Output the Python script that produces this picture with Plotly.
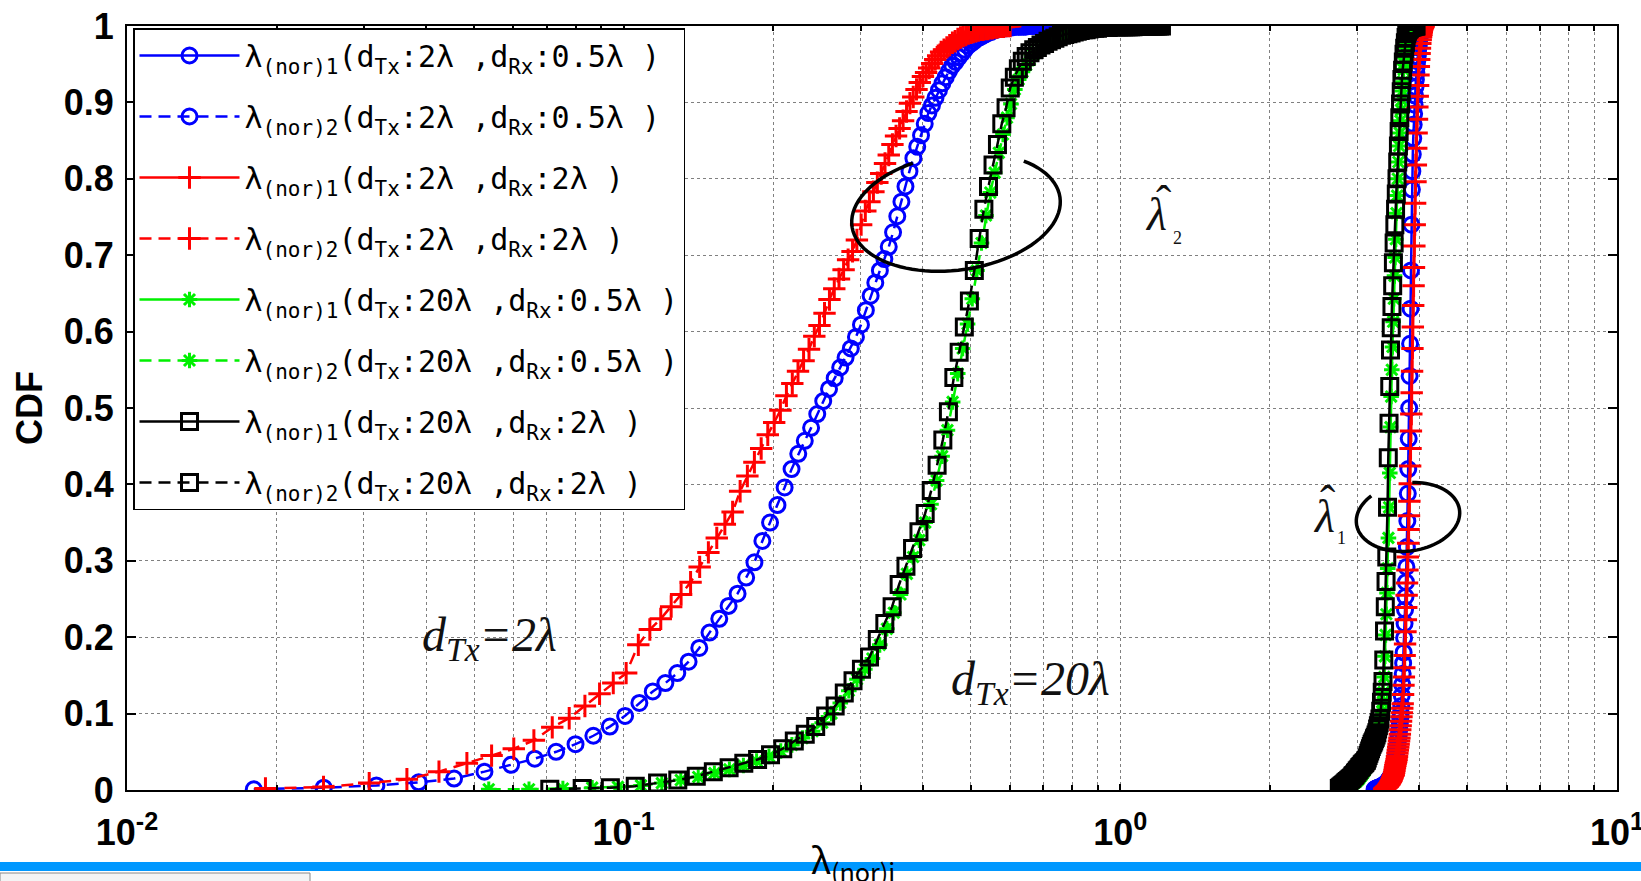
import numpy as np
import plotly.graph_objects as go

# ---- empirical CDFs, each sampled on an evenly spaced eigenvalue grid ----
# a: d_Tx=2λ,  d_Rx=0.5λ   b: d_Tx=2λ,  d_Rx=2λ
# c: d_Tx=20λ, d_Rx=0.5λ   d: d_Tx=20λ, d_Rx=2λ
lam1_range_a = (3.25, 4.05)
lam2_range_a = (0.018, 0.70)
lam1_range_b = (3.40, 4.08)
lam2_range_b = (0.019, 0.60)
lam1_range_c = (2.86, 3.95)
lam2_range_c = (0.0535, 1.14)
lam1_range_d = (2.76, 3.94)
lam2_range_d = (0.071, 1.21)

cdf1_a = [0.001, 0.001, 0.001, 0.002, 0.002, 0.002, 0.003, 0.003, 0.003, 0.003,
          0.004, 0.004, 0.004, 0.004, 0.005, 0.005, 0.006, 0.006, 0.007, 0.007,
          0.008, 0.008, 0.009, 0.009, 0.010, 0.011, 0.012, 0.013, 0.014, 0.015,
          0.016, 0.017, 0.018, 0.019, 0.021, 0.023, 0.026, 0.028, 0.031, 0.034,
          0.037, 0.041, 0.045, 0.050, 0.054, 0.059, 0.064, 0.068, 0.073, 0.080,
          0.087, 0.094, 0.101, 0.110, 0.124, 0.138, 0.152, 0.166, 0.180, 0.199,
          0.218, 0.236, 0.253, 0.272, 0.292, 0.318, 0.352, 0.388, 0.420, 0.460,
          0.500, 0.542, 0.584, 0.630, 0.680, 0.740, 0.786, 0.810, 0.832, 0.853,
          0.871, 0.885, 0.897, 0.909, 0.920, 0.930, 0.939, 0.947, 0.954, 0.960,
          0.965, 0.972, 0.977, 0.983, 0.988, 0.992, 0.995, 0.997, 0.999, 1.0]

cdf2_a = [0.001, 0.003, 0.006, 0.010, 0.015, 0.024, 0.033, 0.041, 0.050, 0.060,
          0.071, 0.083, 0.097, 0.114, 0.129, 0.140, 0.153, 0.168, 0.186, 0.206,
          0.224, 0.241, 0.257, 0.278, 0.298, 0.326, 0.350, 0.373, 0.396, 0.420,
          0.440, 0.457, 0.474, 0.492, 0.509, 0.525, 0.539, 0.553, 0.566, 0.578,
          0.593, 0.609, 0.628, 0.647, 0.664, 0.680, 0.695, 0.711, 0.730, 0.751,
          0.770, 0.790, 0.810, 0.827, 0.842, 0.857, 0.872, 0.886, 0.896, 0.906,
          0.916, 0.925, 0.933, 0.941, 0.948, 0.953, 0.959, 0.964, 0.969, 0.974,
          0.977, 0.980, 0.983, 0.985, 0.987, 0.989, 0.991, 0.992, 0.994, 0.995,
          0.996, 0.996, 0.997, 0.997, 0.998, 0.998, 0.999, 0.999, 0.999, 0.999,
          0.999, 0.999, 1.0, 1.0, 1.0, 1.0, 1.0, 1.0, 1.0, 1.0]

cdf1_b = [0.001, 0.002, 0.002, 0.003, 0.003, 0.004, 0.004, 0.005, 0.005, 0.006,
          0.007, 0.008, 0.008, 0.009, 0.010, 0.011, 0.012, 0.013, 0.015, 0.016,
          0.018, 0.019, 0.020, 0.023, 0.026, 0.029, 0.032, 0.035, 0.037, 0.040,
          0.044, 0.048, 0.052, 0.056, 0.060, 0.064, 0.068, 0.073, 0.079, 0.084,
          0.090, 0.096, 0.101, 0.107, 0.113, 0.125, 0.137, 0.148, 0.160, 0.176,
          0.191, 0.207, 0.223, 0.239, 0.255, 0.271, 0.288, 0.305, 0.323, 0.341,
          0.359, 0.378, 0.401, 0.424, 0.447, 0.470, 0.492, 0.520, 0.548, 0.578,
          0.606, 0.634, 0.660, 0.684, 0.712, 0.740, 0.768, 0.796, 0.818, 0.840,
          0.860, 0.878, 0.894, 0.908, 0.922, 0.936, 0.947, 0.956, 0.964, 0.971,
          0.977, 0.982, 0.986, 0.989, 0.992, 0.995, 0.997, 0.998, 0.999, 1.0]

cdf2_b = [0.002, 0.004, 0.009, 0.014, 0.024, 0.035, 0.045, 0.054, 0.065, 0.082,
          0.094, 0.110, 0.126, 0.140, 0.153, 0.190, 0.210, 0.224, 0.240, 0.256,
          0.272, 0.292, 0.311, 0.330, 0.348, 0.364, 0.391, 0.411, 0.429, 0.447,
          0.465, 0.481, 0.497, 0.516, 0.532, 0.548, 0.562, 0.577, 0.594, 0.608,
          0.624, 0.642, 0.656, 0.669, 0.681, 0.694, 0.705, 0.720, 0.740, 0.758,
          0.770, 0.783, 0.795, 0.807, 0.820, 0.831, 0.845, 0.856, 0.866, 0.876,
          0.888, 0.899, 0.907, 0.917, 0.926, 0.934, 0.939, 0.945, 0.951, 0.956,
          0.961, 0.966, 0.969, 0.972, 0.975, 0.978, 0.980, 0.983, 0.985, 0.987,
          0.988, 0.990, 0.991, 0.992, 0.993, 0.994, 0.995, 0.995, 0.996, 0.996,
          0.997, 0.997, 0.998, 0.998, 0.999, 0.999, 0.999, 1.0, 1.0, 1.0]

cdf1_c = [0.001, 0.002, 0.003, 0.004, 0.005, 0.006, 0.007, 0.008, 0.009, 0.010,
          0.010, 0.011, 0.012, 0.013, 0.014, 0.015, 0.017, 0.018, 0.019, 0.021,
          0.022, 0.024, 0.025, 0.027, 0.029, 0.031, 0.034, 0.036, 0.038, 0.041,
          0.043, 0.045, 0.047, 0.050, 0.052, 0.055, 0.058, 0.061, 0.064, 0.067,
          0.070, 0.075, 0.080, 0.085, 0.090, 0.096, 0.103, 0.115, 0.128, 0.148,
          0.175, 0.203, 0.230, 0.258, 0.290, 0.330, 0.370, 0.415, 0.475, 0.515,
          0.550, 0.580, 0.613, 0.643, 0.673, 0.697, 0.721, 0.755, 0.778, 0.800,
          0.822, 0.843, 0.860, 0.876, 0.890, 0.903, 0.915, 0.927, 0.943, 0.951,
          0.959, 0.966, 0.972, 0.977, 0.981, 0.985, 0.989, 0.991, 0.993, 0.995,
          0.996, 0.997, 0.998, 0.998, 0.999, 0.999, 0.999, 1.0, 1.0, 1.0]

cdf2_c = [0.001, 0.001, 0.002, 0.003, 0.004, 0.006, 0.009, 0.013, 0.017, 0.022,
          0.027, 0.032, 0.038, 0.044, 0.051, 0.059, 0.068, 0.077, 0.088, 0.100,
          0.114, 0.130, 0.145, 0.158, 0.172, 0.190, 0.211, 0.232, 0.256, 0.283,
          0.305, 0.327, 0.350, 0.374, 0.405, 0.437, 0.471, 0.508, 0.545, 0.578,
          0.610, 0.643, 0.680, 0.716, 0.752, 0.782, 0.808, 0.834, 0.858, 0.880,
          0.898, 0.917, 0.930, 0.940, 0.949, 0.956, 0.962, 0.966, 0.970, 0.973,
          0.976, 0.978, 0.981, 0.983, 0.985, 0.987, 0.988, 0.989, 0.990, 0.991,
          0.992, 0.993, 0.994, 0.995, 0.995, 0.996, 0.996, 0.997, 0.997, 0.997,
          0.998, 0.998, 0.998, 0.998, 0.999, 0.999, 0.999, 0.999, 1.0, 1.0,
          1.0, 1.0, 1.0, 1.0, 1.0, 1.0, 1.0, 1.0, 1.0, 1.0]

cdf1_d = [0.002, 0.003, 0.004, 0.005, 0.006, 0.007, 0.008, 0.009, 0.010, 0.011,
          0.012, 0.013, 0.014, 0.015, 0.016, 0.018, 0.019, 0.020, 0.022, 0.023,
          0.025, 0.026, 0.027, 0.029, 0.030, 0.031, 0.033, 0.034, 0.035, 0.036,
          0.038, 0.039, 0.042, 0.045, 0.048, 0.051, 0.054, 0.057, 0.060, 0.062,
          0.064, 0.067, 0.069, 0.072, 0.075, 0.080, 0.084, 0.088, 0.093, 0.103,
          0.115, 0.128, 0.142, 0.170, 0.208, 0.240, 0.273, 0.305, 0.370, 0.435,
          0.480, 0.528, 0.576, 0.605, 0.633, 0.660, 0.690, 0.716, 0.740, 0.760,
          0.780, 0.800, 0.822, 0.843, 0.862, 0.880, 0.898, 0.914, 0.930, 0.942,
          0.953, 0.963, 0.971, 0.978, 0.985, 0.990, 0.993, 0.995, 0.996, 0.997,
          0.998, 0.998, 0.999, 0.999, 0.999, 1.0, 1.0, 1.0, 1.0, 1.0]

cdf2_d = [0.001, 0.002, 0.003, 0.005, 0.009, 0.013, 0.018, 0.024, 0.029, 0.035,
          0.040, 0.046, 0.054, 0.064, 0.073, 0.083, 0.097, 0.110, 0.127, 0.143,
          0.158, 0.174, 0.197, 0.218, 0.240, 0.269, 0.293, 0.316, 0.338, 0.362,
          0.392, 0.425, 0.458, 0.495, 0.540, 0.573, 0.606, 0.640, 0.680, 0.722,
          0.760, 0.790, 0.818, 0.845, 0.872, 0.893, 0.919, 0.933, 0.944, 0.954,
          0.960, 0.965, 0.969, 0.972, 0.975, 0.977, 0.980, 0.982, 0.984, 0.986,
          0.988, 0.989, 0.990, 0.991, 0.992, 0.993, 0.994, 0.995, 0.995, 0.996,
          0.997, 0.997, 0.997, 0.998, 0.998, 0.998, 0.998, 0.999, 0.999, 0.999,
          0.999, 0.999, 0.999, 0.999, 0.999, 0.999, 0.999, 1.0, 1.0, 1.0,
          1.0, 1.0, 1.0, 1.0, 1.0, 1.0, 1.0, 1.0, 1.0, 1.0]

legend_labels = [
    "λ<sub>(nor)1</sub>(d<sub>Tx</sub>:2λ ,d<sub>Rx</sub>:0.5λ )",
    "λ<sub>(nor)2</sub>(d<sub>Tx</sub>:2λ ,d<sub>Rx</sub>:0.5λ )",
    "λ<sub>(nor)1</sub>(d<sub>Tx</sub>:2λ ,d<sub>Rx</sub>:2λ )",
    "λ<sub>(nor)2</sub>(d<sub>Tx</sub>:2λ ,d<sub>Rx</sub>:2λ )",
    "λ<sub>(nor)1</sub>(d<sub>Tx</sub>:20λ ,d<sub>Rx</sub>:0.5λ )",
    "λ<sub>(nor)2</sub>(d<sub>Tx</sub>:20λ ,d<sub>Rx</sub>:0.5λ )",
    "λ<sub>(nor)1</sub>(d<sub>Tx</sub>:20λ ,d<sub>Rx</sub>:2λ )",
    "λ<sub>(nor)2</sub>(d<sub>Tx</sub>:20λ ,d<sub>Rx</sub>:2λ )",
]

y_ticks = [0, 0.1, 0.2, 0.3, 0.4, 0.5, 0.6, 0.7, 0.8, 0.9, 1]
x_ticks = [0.01, 0.1, 1, 10]
x_tick_text = ["10<sup>-2</sup>", "10<sup>-1</sup>", "10<sup>0</sup>", "10<sup>1</sup>"]
x_minor_ticks = [m * 10.0 ** e for e in (-2, -1, 0) for m in range(2, 10)]

# (range, cdf, colour, marker, dash, marker size)
dashed = "12px,7px"
series = [
    (lam1_range_a, cdf1_a, "#0000ff", "circle-open", "solid", 15),
    (lam2_range_a, cdf2_a, "#0000ff", "circle-open", dashed, 15),
    (lam1_range_b, cdf1_b, "#ff0000", "cross-thin-open", "solid", 16),
    (lam2_range_b, cdf2_b, "#ff0000", "cross-thin-open", dashed, 16),
    (lam1_range_c, cdf1_c, "#00f000", "asterisk-open", "solid", 13),
    (lam2_range_c, cdf2_c, "#00f000", "asterisk-open", dashed, 13),
    (lam1_range_d, cdf1_d, "#000000", "square-open", "solid", 16),
    (lam2_range_d, cdf2_d, "#000000", "square-open", dashed, 16),
]

fig = go.Figure()
for label, (rng, cdf, color, symbol, dash, msize) in zip(legend_labels, series):
    lam = np.linspace(rng[0], rng[1], len(cdf))
    fig.add_trace(go.Scatter(
        x=lam, y=cdf, mode="lines+markers", name=label, legendgroup=label,
        line=dict(color=color, width=2.5, dash=dash),
        marker=dict(symbol=symbol, size=msize, color=color,
                    line=dict(color=color, width=3)),
    ))

# plot-area geometry (pixels) used to place the decorations
L, R, T, B = 127, 1617, 26, 790
W, H = R - L, B - T


def px(x):
    return (x - L) / W


def py(y):
    return (B - y) / H


def ellipse_path(cx, cy, rx, ry, tilt_deg, t0, t1, n=80):
    th = np.radians(tilt_deg)
    ts = np.radians(np.linspace(t0, t1, n))
    xs = cx + rx * np.cos(ts) * np.cos(th) - ry * np.sin(ts) * np.sin(th)
    ys = cy + rx * np.cos(ts) * np.sin(th) + ry * np.sin(ts) * np.cos(th)
    pts = [f"{px(a):.5f},{py(b):.5f}" for a, b in zip(xs, ys)]
    return "M" + " L".join(pts)


shapes = [
    # white label backgrounds over the grid
    dict(type="rect", xref="paper", yref="paper", layer="between",
         x0=px(404), x1=px(660), y0=py(671), y1=py(593),
         fillcolor="white", line=dict(width=0)),
    dict(type="rect", xref="paper", yref="paper", layer="between",
         x0=px(929), x1=px(1154), y0=py(717), y1=py(639),
         fillcolor="white", line=dict(width=0)),
    # grouping ellipses
    dict(type="path", xref="paper", yref="paper",
         path=ellipse_path(956, 212, 105, 58, -8, -45, 250),
         line=dict(color="black", width=3.5)),
    dict(type="path", xref="paper", yref="paper",
         path=ellipse_path(1408, 517, 52, 34, -8, -80, 230),
         line=dict(color="black", width=3.5)),
    # window strip along the bottom
    dict(type="rect", xref="paper", yref="paper", layer="below",
         x0=px(-5), x1=px(1650), y0=py(871), y1=py(862),
         fillcolor="#0098ff", line=dict(width=0)),
    dict(type="rect", xref="paper", yref="paper", layer="below",
         x0=px(0), x1=px(310), y0=py(890), y1=py(873),
         fillcolor="#f4f4f4", line=dict(color="#888888", width=1)),
]

serif = "Liberation Serif"


def note(x, y, text, size, family=serif, color="#111111", yanchor="middle"):
    return dict(xref="paper", yref="paper", x=px(x), y=py(y), xanchor="center",
                yanchor=yanchor, showarrow=False, text=text,
                font=dict(family=family, size=size, color=color))


annotations = [
    note(489, 638, "<i>d</i><sub><i>Tx</i></sub><i>=2λ</i>", 48),
    note(1030, 682, "<i>d</i><sub><i>Tx</i></sub><i>=20λ</i>", 48),
    # λ̂2
    note(1156, 214, "<i>λ</i>", 46),
    note(1163, 202, "ˆ", 46),
    note(1177, 238, "2", 18),
    # λ̂1
    note(1324, 516, "<i>λ</i>", 46),
    note(1327, 502, "ˆ", 46),
    note(1341, 538, "1", 18),
    # x-axis title
    note(853, 830, "λ<sub>(nor)i</sub>", 36, family="Noto Sans CJK JP",
         color="black", yanchor="top"),
]

grid = dict(showgrid=True, gridcolor="#808080", gridwidth=1, griddash="dot")
axis_common = dict(showline=True, linecolor="black", linewidth=2, mirror="ticks",
                   ticks="inside", tickcolor="black", tickwidth=1.5, zeroline=False,
                   automargin=False,
                   tickfont=dict(family="Liberation Sans", size=36, color="black", weight="bold"),
                   **grid)

fig.update_layout(
    width=1641, height=881, autosize=False,
    margin=dict(l=L, r=1641 - R, t=T, b=881 - B),
    paper_bgcolor="white", plot_bgcolor="white",
    shapes=shapes, annotations=annotations,
    legend=dict(x=px(133), y=py(28), xanchor="left", yanchor="top",
                bgcolor="white", bordercolor="black", borderwidth=1.5,
                font=dict(family="DejaVu Sans Mono", size=30, color="black"),
                traceorder="grouped", tracegroupgap=19, itemwidth=100),
    xaxis=dict(type="log", range=[-2, 1], tickvals=x_ticks, ticktext=x_tick_text,
               ticklen=6, ticklabelstandoff=10, ticklabeloverflow="allow",
               minor=dict(tickvals=x_minor_ticks, ticks="inside", ticklen=5,
                          tickcolor="black", **grid),
               **axis_common),
    yaxis=dict(range=[0, 1], tickvals=y_ticks, ticklen=9, ticklabelstandoff=4,
               title=dict(text="<b>CDF</b>", standoff=10,
                          font=dict(family="Liberation Sans", size=36, color="black")),
               **axis_common),
)

fig.write_html("out.html")
